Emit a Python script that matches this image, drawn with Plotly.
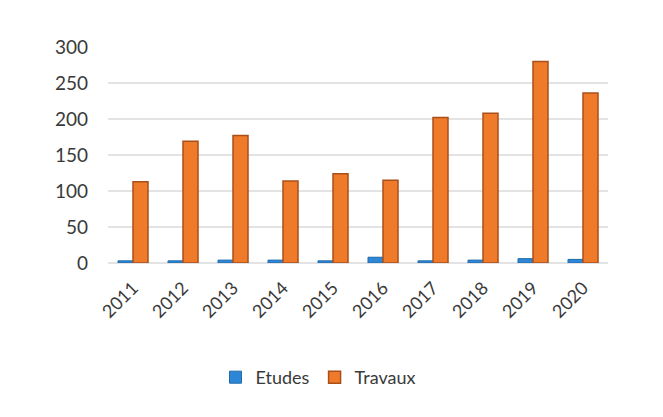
import plotly.graph_objs as go

years = ['2011', '2012', '2013', '2014', '2015', '2016', '2017', '2018', '2019', '2020']
etudes = [3, 3, 4, 4, 3, 8, 3, 4, 6, 5]
travaux = [113, 169, 177, 114, 124, 115, 202, 208, 280, 236]
y_ticks = [0, 50, 100, 150, 200, 250, 300]

colors = {'etudes': '#2E86D6', 'travaux': '#EE7A2A', 'text': '#3A3A3A', 'grid': '#E3E3E6'}

fig = go.Figure()
fig.add_trace(go.Bar(x=years, y=etudes, name='Etudes',
                     marker_color=colors['etudes'],
                     marker_line_color='#1F6AA8', marker_line_width=1))
fig.add_trace(go.Bar(x=years, y=travaux, name='Travaux',
                     marker_color=colors['travaux'],
                     marker_line_color='#A9501A', marker_line_width=1.5))

fig.update_layout(
    width=663, height=417,
    barmode='group',
    bargap=0.4,
    bargroupgap=0.0,
    font=dict(family='Lato', color=colors['text']),
    paper_bgcolor='#ffffff',
    plot_bgcolor='#ffffff',
    margin={'t': 39, 'l': 100, 'r': 63, 'b': 162},
    legend=dict(orientation='h', x=0.42, xanchor='center', y=-0.53, yanchor='middle',
                font=dict(size=18), itemwidth=30),
    xaxis=dict(tickangle=-45, tickfont=dict(size=18), showgrid=False,
               showline=False, ticks='', ticklabelstandoff=10),
    yaxis=dict(range=[0, 300], tickvals=y_ticks, tickfont=dict(size=19),
               gridcolor=colors['grid'], gridwidth=2, zeroline=True,
               zerolinecolor=colors['grid'], zerolinewidth=2, ticks='',
               ticklabelstandoff=19),
)

fig.write_html("out.html")
